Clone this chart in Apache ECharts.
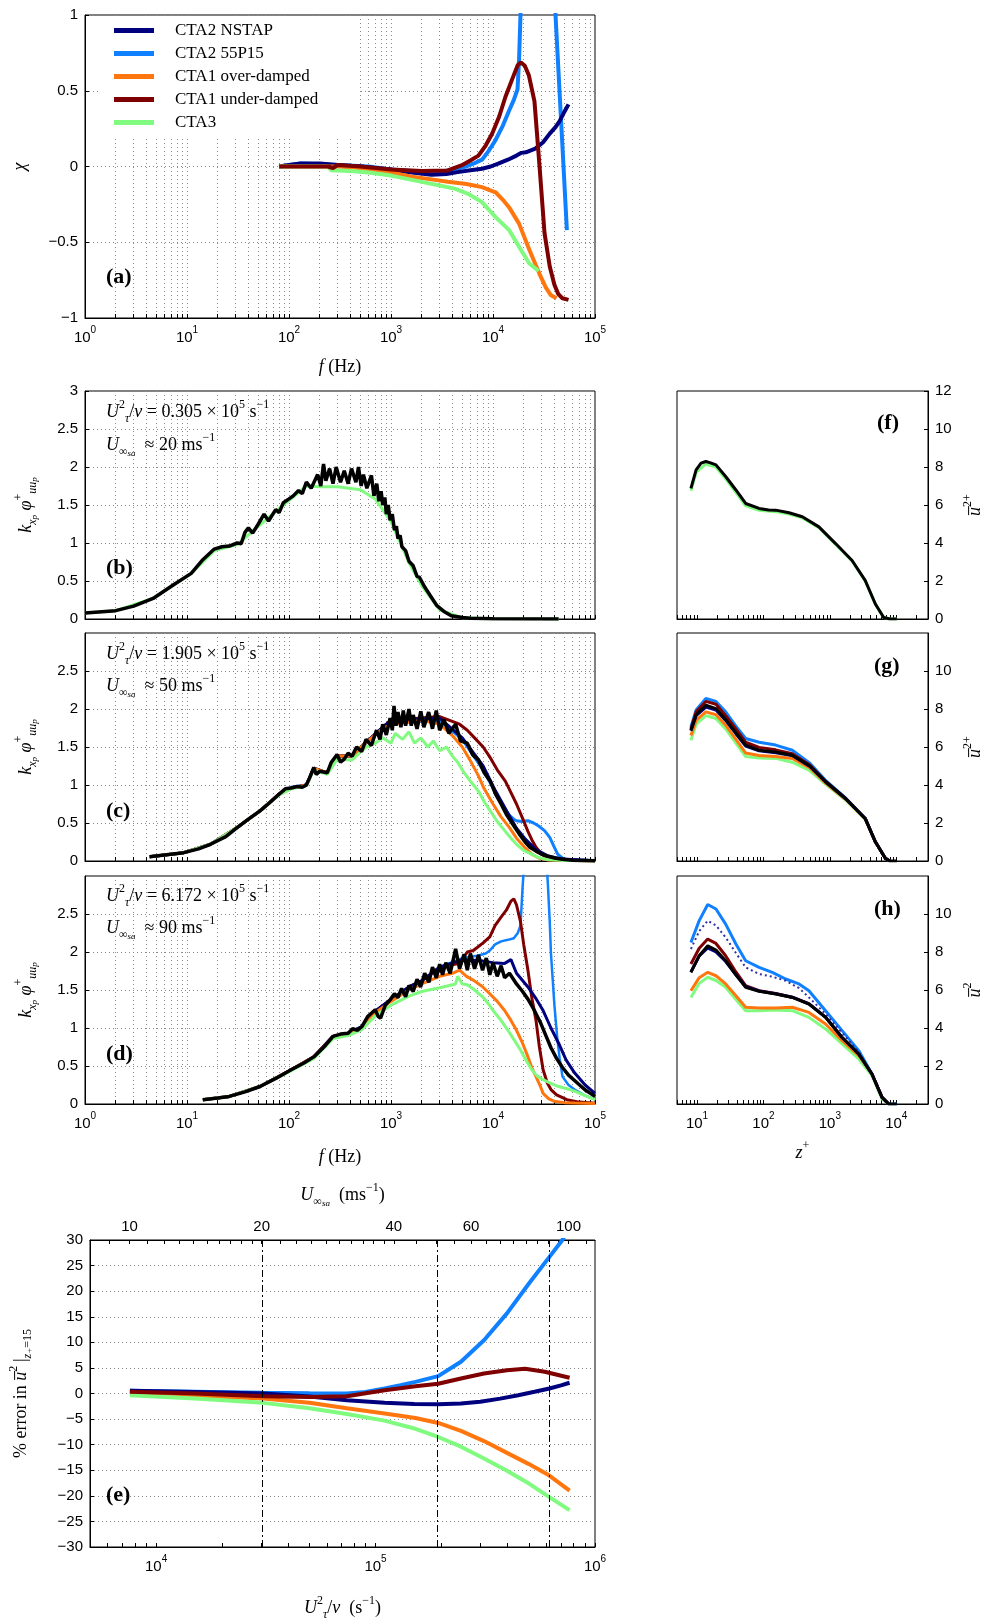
<!DOCTYPE html>
<html><head><meta charset="utf-8">
<script src="https://cdn.jsdelivr.net/npm/echarts@6/dist/echarts.min.js"></script>
<style>html,body{margin:0;padding:0;background:#fff}#c{width:985px;height:1623px}</style>
</head><body><div id="c"></div>
<script>
// ---------------- DATA ----------------
const seriesNames = ['CTA2 NSTAP','CTA2 55P15','CTA1 over-damped','CTA1 under-damped','CTA3'];
const annotFlow = ['0.305','1.905','6.172'];
const annotSpeed = ['20','50','90'];
const refFlow = [30500, 190500, 617200];
const topSpeedLabels = [10,20,40,60,100];

// (a) chi vs f
const chiNSTAP = [[80,0],[100,0.01],[130,0.02],[200,0.02],[300,0.01],[500,0],[1000,-0.02],[1600,-0.04],[2500,-0.055],[3500,-0.05],[4500,-0.037],[6000,-0.025],[7800,-0.015],[9500,0.0],[11400,0.02],[14000,0.045],[17000,0.072],[19000,0.09],[21000,0.094],[26000,0.118],[31000,0.16],[36000,0.217],[41000,0.26],[45000,0.30],[50000,0.36],[55000,0.41]];
const chi55P15 = [[80,0],[130,0.02],[300,0.01],[600,0],[1000,-0.02],[2000,-0.035],[3000,-0.035],[4200,-0.02],[5400,0.0],[6500,0.02],[7800,0.045],[9000,0.1],[10500,0.17],[12500,0.27],[14400,0.37],[16000,0.44],[17400,0.51],[18000,0.7],[18600,1.0],[19500,1.6],[39000,1.6],[41000,1.0],[53000,-0.42]];
const chiOver = [[80,0],[240,0],[300,0.0],[500,-0.01],[1000,-0.04],[1680,-0.07],[2500,-0.085],[3600,-0.10],[5500,-0.115],[7800,-0.136],[10600,-0.17],[12500,-0.22],[14400,-0.27],[18000,-0.377],[22700,-0.55],[28600,-0.71],[33000,-0.8],[37000,-0.85],[42000,-0.87]];
const chiUnder = [[80,0],[240,0],[270,-0.01],[300,0.01],[500,0],[1000,-0.02],[2000,-0.03],[3600,-0.026],[4900,0.007],[6000,0.04],[7200,0.072],[8500,0.14],[9800,0.216],[11500,0.33],[13200,0.457],[15500,0.58],[17500,0.67],[18800,0.687],[20500,0.665],[22500,0.6],[25500,0.43],[28600,0.0],[32000,-0.44],[36000,-0.66],[40000,-0.78],[43500,-0.84],[48000,-0.87],[55000,-0.88]];
const chiCTA3 = [[80,0],[240,0],[260,-0.025],[400,-0.03],[600,-0.04],[1000,-0.06],[1950,-0.10],[3000,-0.125],[4200,-0.146],[5700,-0.18],[7800,-0.235],[10600,-0.334],[14400,-0.42],[18000,-0.53],[22700,-0.64],[28000,-0.69]];

// (b) premultiplied spectra, 20 m/s
const specB_black = [[1,0.08],[2,0.11],[3,0.17],[4.65,0.27],[7.2,0.44],[11,0.6],[14.3,0.78],[18.5,0.92],[22,0.95],[26,0.96],[31,1.0],[34,0.99],[37,1.14],[40,1.2],[44,1.13],[50,1.25],[57,1.38],[63,1.29],[74,1.44],[80,1.4],[88,1.53],[100,1.58],[110,1.62],[124,1.69],[135,1.65],[148,1.8],[165,1.72],[191,1.9],[205,1.75],[218,2.04],[230,1.82],[250,1.98],[270,1.78],[290,2.0],[320,1.8],[348,1.95],[380,1.78],[410,1.98],[453,1.8],[480,2.0],[510,1.75],[537,1.9],[580,1.72],[643,1.89],[680,1.62],[725,1.78],[760,1.55],[800,1.68],[830,1.5],[870,1.6],[900,1.38],[940,1.5],[980,1.3],[1030,1.38],[1080,1.17],[1130,1.22],[1170,1.06],[1230,1.1],[1280,0.95],[1390,0.9],[1500,0.76],[1650,0.7],[1800,0.56],[1900,0.55],[2140,0.42],[2450,0.3],[2800,0.18],[3300,0.1],[3900,0.044],[5000,0.02],[6000,0.01],[10000,0.003],[44000,0]];
const specB_green = [[1,0.08],[2,0.11],[4.65,0.27],[11,0.6],[18.5,0.9],[31,0.98],[50,1.22],[88,1.5],[148,1.75],[200,1.74],[300,1.74],[500,1.7],[700,1.58],[1000,1.28],[1500,0.74],[2000,0.44],[3000,0.12],[5000,0.015],[10000,0.002],[44000,0]];

// (c) 50 m/s
const specC_black = [[4.3,0.057],[6,0.08],[9.3,0.11],[13,0.16],[17,0.22],[24,0.32],[31,0.44],[40,0.55],[52,0.66],[65,0.77],[80,0.88],[92,0.95],[105,0.96],[120,0.98],[135,0.97],[148,1.0],[160,1.1],[175,1.23],[185,1.14],[200,1.18],[237,1.16],[260,1.3],[296,1.4],[320,1.3],[348,1.34],[380,1.42],[415,1.38],[460,1.5],[515,1.44],[570,1.6],[642,1.52],[720,1.72],[780,1.6],[830,1.8],[900,1.66],[980,1.88],[1030,1.72],[1070,2.04],[1120,1.78],[1170,1.96],[1250,1.76],[1320,1.98],[1390,1.78],[1500,2.0],[1580,1.78],[1650,1.92],[1800,1.74],[1960,1.97],[2100,1.76],[2340,1.96],[2550,1.74],[2780,1.98],[3000,1.72],[3300,1.86],[3700,1.68],[4300,1.8],[4800,1.58],[5600,1.55],[6300,1.4],[7200,1.33],[8200,1.16],[9400,1.05],[10600,0.88],[12000,0.75],[13700,0.6],[15700,0.48],[18000,0.36],[20400,0.26],[23000,0.18],[26400,0.13],[30000,0.09],[34000,0.066],[40000,0.04],[48000,0.022],[60000,0.01],[100000,0.003]];
const specC_green = [[4.3,0.057],[9.3,0.11],[17,0.22],[31,0.44],[52,0.66],[80,0.87],[105,0.95],[148,0.99],[175,1.2],[237,1.14],[296,1.34],[415,1.33],[570,1.5],[700,1.55],[830,1.62],[1000,1.55],[1100,1.68],[1300,1.6],[1500,1.7],[1700,1.55],[1960,1.62],[2300,1.5],[2600,1.58],[3000,1.45],[3500,1.5],[4000,1.38],[4500,1.3],[5100,1.18],[6000,1.05],[7200,0.92],[8200,0.78],[9400,0.66],[11000,0.52],[13200,0.39],[15000,0.3],[17000,0.22],[20000,0.14],[24000,0.088],[28000,0.045],[34000,0.02],[50000,0.005],[100000,0.001]];
const specC_orange = [[4.3,0.057],[9.3,0.11],[17,0.22],[31,0.44],[52,0.66],[80,0.88],[105,0.96],[148,1.0],[175,1.22],[237,1.16],[296,1.38],[415,1.38],[570,1.56],[830,1.74],[1000,1.8],[2000,1.85],[3000,1.8],[4000,1.65],[5000,1.5],[6000,1.32],[7200,1.12],[8200,0.95],[10000,0.75],[12000,0.58],[14500,0.44],[17000,0.3],[20400,0.18],[24000,0.09],[28000,0.04],[35000,0.012],[100000,0.001]];
const specC_red = [[4.3,0.057],[9.3,0.11],[17,0.22],[31,0.44],[52,0.66],[80,0.88],[105,0.96],[148,1.0],[175,1.22],[237,1.16],[296,1.38],[415,1.38],[570,1.56],[830,1.76],[1000,1.85],[3000,1.9],[4700,1.8],[5600,1.72],[6600,1.62],[8000,1.5],[9400,1.36],[11000,1.2],[13200,1.05],[15000,0.9],[17000,0.75],[19500,0.56],[22000,0.39],[24000,0.28],[26400,0.18],[30000,0.09],[34000,0.04],[40000,0.015],[100000,0.001]];
const specC_blue = [[4.3,0.057],[9.3,0.11],[17,0.22],[31,0.44],[52,0.66],[80,0.88],[105,0.97],[148,1.0],[175,1.22],[237,1.16],[296,1.38],[415,1.38],[570,1.56],[830,1.76],[1000,1.82],[3000,1.85],[5000,1.6],[8000,1.2],[10600,0.9],[12500,0.72],[14500,0.6],[16000,0.55],[17000,0.53],[19000,0.52],[22000,0.53],[25000,0.5],[28000,0.46],[32000,0.4],[36000,0.31],[40000,0.18],[43000,0.09],[50000,0.02],[100000,0.002]];
const specC_navy = [[4.3,0.057],[9.3,0.11],[17,0.22],[31,0.44],[52,0.66],[80,0.88],[105,0.96],[148,1.0],[175,1.22],[237,1.16],[296,1.38],[415,1.38],[570,1.56],[830,1.76],[1000,1.85],[3000,1.88],[5000,1.62],[8000,1.25],[10600,0.92],[13700,0.65],[17000,0.43],[20400,0.3],[26400,0.15],[34000,0.07],[48000,0.025],[100000,0.003]];

// (d) 90 m/s
const specD_black = [[14.3,0.057],[20,0.08],[26,0.1],[37,0.16],[52,0.23],[75,0.34],[105,0.45],[140,0.54],[175,0.62],[220,0.75],[270,0.89],[320,0.92],[380,0.93],[420,0.99],[470,0.97],[520,1.02],[590,1.15],[650,1.2],[700,1.24],[750,1.15],[790,1.13],[880,1.3],[980,1.37],[1080,1.45],[1170,1.4],[1270,1.52],[1390,1.41],[1500,1.56],[1650,1.48],[1800,1.64],[1950,1.54],[2140,1.72],[2350,1.6],[2550,1.8],[2780,1.66],[3000,1.84],[3200,1.7],[3450,1.86],[3800,1.72],[4300,2.04],[4700,1.78],[5200,1.97],[5600,1.76],[6000,1.98],[6600,1.78],[7200,1.96],[7900,1.76],[8600,1.92],[9300,1.7],[10000,1.86],[11000,1.68],[12000,1.82],[13000,1.66],[14500,1.72],[17000,1.58],[19500,1.48],[22000,1.38],[25000,1.25],[29000,1.08],[33000,0.9],[37000,0.74],[42000,0.6],[48000,0.48],[55000,0.38],[63000,0.31],[72000,0.24],[81000,0.18],[90000,0.14],[100000,0.1]];
const specD_navy = [[14.3,0.057],[26,0.1],[52,0.23],[105,0.45],[175,0.62],[270,0.89],[380,0.93],[520,1.02],[700,1.22],[1000,1.38],[1500,1.54],[2000,1.62],[3000,1.8],[5000,1.9],[8000,1.88],[10000,1.86],[13000,1.85],[15000,1.9],[17000,1.72],[22000,1.54],[26000,1.4],[31000,1.23],[37000,1.0],[44000,0.8],[52000,0.58],[63000,0.41],[80000,0.25],[100000,0.14]];
const specD_red = [[14.3,0.057],[26,0.1],[52,0.23],[105,0.45],[175,0.62],[270,0.89],[380,0.93],[520,1.02],[700,1.22],[1000,1.37],[1500,1.54],[2000,1.62],[3000,1.8],[4700,1.85],[5600,2.0],[6400,2.02],[7000,2.06],[8000,2.12],[9300,2.2],[10500,2.35],[12000,2.46],[13500,2.55],[15000,2.67],[16000,2.7],[17000,2.62],[18600,2.4],[20000,2.1],[22000,1.76],[24000,1.4],[26400,1.1],[28500,0.75],[31000,0.45],[34000,0.28],[37000,0.19],[42000,0.12],[53000,0.057],[70000,0.025],[100000,0.01]];
const specD_blue = [[14.3,0.057],[26,0.1],[52,0.23],[105,0.45],[175,0.62],[270,0.89],[380,0.93],[520,1.02],[700,1.22],[1000,1.37],[1500,1.54],[2000,1.62],[3000,1.8],[5000,1.92],[7000,1.95],[8500,1.98],[9300,2.02],[10500,2.1],[12000,2.14],[14000,2.16],[16000,2.18],[17500,2.25],[18600,2.35],[19500,2.85],[20500,3.3],[33000,3.3],[34500,2.9],[36000,2.4],[37000,1.98],[40000,1.3],[42500,0.89],[45000,0.6],[48000,0.36],[55000,0.25],[63000,0.19],[80000,0.11],[100000,0.06]];
const specD_orange = [[14.3,0.057],[26,0.1],[52,0.23],[105,0.45],[175,0.62],[270,0.88],[380,0.92],[520,1.0],[700,1.2],[1000,1.35],[1500,1.5],[2000,1.58],[3000,1.68],[4000,1.72],[4700,1.76],[5500,1.68],[6400,1.63],[7800,1.55],[9300,1.45],[11000,1.35],[13000,1.23],[15000,1.1],[17000,0.97],[19500,0.8],[22000,0.62],[24000,0.48],[26400,0.36],[29000,0.24],[31000,0.14],[35000,0.07],[40000,0.035],[50000,0.018],[63000,0.013],[100000,0.008]];
const specD_green = [[14.3,0.057],[26,0.1],[52,0.23],[105,0.44],[175,0.6],[270,0.86],[380,0.9],[520,0.98],[700,1.16],[1000,1.3],[1500,1.42],[2000,1.48],[3000,1.53],[4300,1.58],[4500,1.68],[5000,1.58],[5600,1.57],[6600,1.5],[7900,1.41],[9000,1.32],[10000,1.23],[12000,1.1],[14000,0.97],[16000,0.85],[18600,0.71],[21000,0.58],[24000,0.45],[27000,0.37],[31000,0.32],[37000,0.27],[44000,0.23],[53000,0.2],[63000,0.17],[80000,0.11],[100000,0.057]];

// (e) % error at z+=15
const errNSTAP = [[7600,0.52],[15000,0.3],[30800,0.0],[50000,-0.6],[74000,-1.3],[110000,-1.83],[150000,-2.05],[193000,-2.1],[245000,-1.95],[300000,-1.63],[370000,-1.0],[447000,-0.33],[530000,0.35],[620000,0.98],[700000,1.6],[766000,2.1]];
const err55P15 = [[7600,0.55],[15000,0.35],[30800,0.13],[50000,0.05],[74000,0.0],[90000,0.3],[110000,0.98],[130000,1.6],[152000,2.28],[193000,3.4],[245000,6.2],[312000,10.4],[397000,15.65],[500000,21.5],[620000,26.7],[710000,30],[766000,32.5]];
const errOver = [[7600,0.0],[15000,-0.45],[30800,-1.0],[50000,-1.8],[74000,-2.9],[110000,-3.9],[152000,-4.8],[193000,-5.75],[245000,-7.3],[312000,-9.3],[397000,-11.6],[500000,-13.8],[617000,-16.0],[766000,-19.0]];
const errUnder = [[7600,0.33],[15000,0.0],[30800,-0.52],[50000,-0.7],[74000,-0.52],[110000,0.65],[152000,1.4],[193000,1.9],[245000,2.93],[312000,3.9],[397000,4.56],[480000,4.82],[590000,4.24],[766000,3.07]];
const errCTA3 = [[7600,-0.33],[15000,-1.0],[30800,-1.83],[50000,-2.9],[74000,-4.0],[110000,-5.3],[152000,-6.9],[193000,-8.5],[245000,-10.4],[312000,-12.7],[397000,-15.1],[500000,-17.6],[617000,-20.2],[766000,-22.8]];

// (f) variance profile, 20 m/s
const varF_black = [[8.1,6.87],[9.7,7.85],[11.5,8.2],[13.6,8.29],[16,8.22],[19.3,8.11],[27,7.5],[38.5,6.79],[54,6.08],[86,5.82],[120,5.74],[153,5.73],[243,5.59],[385,5.38],[684,4.85],[1220,3.97],[2160,3.08],[3400,2.03],[4840,0.79],[6460,0.08],[8000,0.0],[10200,0]];
const varF_green = [[8.1,6.75],[9.7,7.72],[13.6,8.16],[19.3,7.99],[27,7.38],[38.5,6.67],[54,5.96],[86,5.72],[153,5.65],[243,5.52],[385,5.32],[684,4.8],[1220,3.93],[2160,3.05],[3400,2.0],[4840,0.78],[6460,0.08],[8000,0.0],[10200,0]];
// (g) 50 m/s
const varG_black = [[8.1,6.88],[9.7,7.7],[13.6,8.2],[19.3,8.02],[27,7.45],[38.5,6.75],[54,6.1],[86,5.83],[153,5.74],[272,5.57],[500,5.0],[861,4.17],[1720,3.29],[3400,2.24],[4840,1.01],[6840,0.14],[8000,0.0],[10200,0]];
const varG_blue = [[8.1,7.05],[9.7,7.95],[13.6,8.55],[19.3,8.4],[27,7.85],[38.5,7.1],[54,6.45],[86,6.25],[153,6.1],[272,5.83],[500,5.15],[861,4.25],[1720,3.32],[3400,2.25],[4840,1.01],[6840,0.14],[8000,0.0]];
const varG_red = [[8.1,6.95],[9.7,7.85],[13.6,8.4],[19.3,8.25],[27,7.65],[38.5,6.95],[54,6.25],[86,5.98],[153,5.85],[272,5.65],[500,5.05],[861,4.2],[1720,3.3],[3400,2.24],[4840,1.01],[6840,0.14],[8000,0.0]];
const varG_navy = [[8.1,6.85],[9.7,7.65],[13.6,8.1],[19.3,7.95],[27,7.4],[38.5,6.7],[54,6.05],[86,5.8],[153,5.7],[272,5.55],[500,4.98],[861,4.17],[1720,3.29],[3400,2.24],[4840,1.01],[6840,0.14],[8000,0.0]];
const varG_orange = [[8.1,6.6],[9.7,7.4],[13.6,7.85],[19.3,7.7],[27,7.15],[38.5,6.4],[54,5.68],[86,5.55],[153,5.5],[272,5.4],[500,4.9],[861,4.1],[1720,3.25],[3400,2.22],[4840,1.0],[6840,0.14],[8000,0.0]];
const varG_green = [[8.1,6.35],[9.7,7.2],[13.6,7.65],[19.3,7.5],[27,6.95],[38.5,6.2],[54,5.5],[86,5.42],[153,5.4],[272,5.2],[500,4.75],[861,4.05],[1720,3.2],[3400,2.2],[4840,1.0],[6840,0.14],[8000,0.0]];
// (h) 90 m/s
const varH_blue = [[8.1,8.5],[10.8,9.65],[14.5,10.5],[19.3,10.26],[27,9.47],[38.5,8.42],[54,7.54],[86,7.19],[136,6.93],[216,6.58],[343,6.32],[484,5.96],[861,4.91],[1530,3.86],[2720,2.81],[4300,1.58],[6100,0.35],[7700,0.0],[10200,0]];
const varH_dotted = [[8.1,8.16],[10.8,9.1],[14.5,9.65],[19.3,9.4],[27,8.77],[38.5,7.95],[54,7.19],[86,6.84],[136,6.7],[216,6.49],[343,6.1],[484,5.61],[861,4.74],[1530,3.75],[2720,2.75],[4300,1.58],[6100,0.35],[7700,0.0]];
const varH_red = [[8.1,7.37],[10.8,8.2],[14.5,8.68],[19.3,8.45],[27,7.8],[38.5,6.95],[54,6.23],[86,5.96],[153,5.82],[272,5.62],[484,5.28],[861,4.57],[1530,3.5],[2720,2.63],[4300,1.58],[6100,0.35],[7700,0.0]];
const varH_navy = [[8.1,6.95],[10.8,7.8],[14.5,8.22],[19.3,8.0],[27,7.5],[38.5,6.8],[54,6.18],[86,5.95],[153,5.8],[272,5.62],[484,5.27],[861,4.57],[1530,3.5],[2720,2.63],[4300,1.58],[6100,0.35],[7700,0.0]];
const varH_black = [[8.1,6.93],[10.8,7.8],[14.5,8.33],[19.3,8.1],[27,7.54],[38.5,6.8],[54,6.14],[86,5.93],[153,5.79],[272,5.61],[484,5.26],[861,4.56],[1530,3.5],[2720,2.63],[4300,1.58],[6100,0.35],[7700,0.0],[10200,0]];
const varH_orange = [[8.1,5.96],[10.8,6.65],[14.5,6.93],[19.3,6.75],[27,6.32],[38.5,5.7],[54,5.09],[86,5.05],[153,5.05],[272,5.09],[484,4.82],[861,4.21],[1530,3.33],[2720,2.54],[4300,1.58],[6100,0.35],[7700,0.0]];
const varH_green = [[8.1,5.61],[10.8,6.35],[14.5,6.67],[19.3,6.5],[27,6.14],[38.5,5.5],[54,4.91],[86,4.91],[153,4.95],[272,4.91],[484,4.56],[861,3.95],[1530,3.16],[2720,2.37],[4300,1.49],[6100,0.26],[7700,0.0]];

// ---------------- STYLE ----------------
const FS = 'Liberation Sans, Arial, sans-serif';
const FR = 'Liberation Serif, Times New Roman, serif';
const C = {navy:'#00007f', blue:'#0f80ff', orange:'#ff760f', red:'#7f0000', green:'#80fb80', black:'#000000'};

const richTick = {
  b:{fontFamily:FS,fontSize:15,color:'#000',lineHeight:20,verticalAlign:'bottom'},
  e:{fontFamily:FS,fontSize:10,color:'#000',lineHeight:11,verticalAlign:'top'}
};
const richTxt = {
  n:{fontFamily:FR,fontSize:18,color:'#000',lineHeight:26,verticalAlign:'middle'},
  i:{fontFamily:FR,fontSize:18,color:'#000',lineHeight:26,verticalAlign:'middle',fontStyle:'italic'},
  sup:{fontFamily:FR,fontSize:12,color:'#000',lineHeight:14,verticalAlign:'top'},
  sub:{fontFamily:FR,fontSize:12,color:'#000',lineHeight:12,verticalAlign:'bottom',fontStyle:'italic'},
  subn:{fontFamily:FR,fontSize:12,color:'#000',lineHeight:12,verticalAlign:'bottom'},
  ss:{fontFamily:FR,fontSize:9,color:'#000',lineHeight:6,verticalAlign:'bottom',fontStyle:'italic'}
};

function logTicks(min,max){
  const out=[];
  for(let k=Math.floor(Math.log10(min));k<=Math.ceil(Math.log10(max));k++){
    for(let m=1;m<=9;m++){const v=m*Math.pow(10,k); if(v>=min*0.999&&v<=max*1.001) out.push(v);}
  }
  return out;
}
function decades(min,max){
  const out=[];
  for(let k=Math.ceil(Math.log10(min)-1e-9);k<=Math.floor(Math.log10(max)+1e-9);k++) out.push(Math.pow(10,k));
  return out;
}
const expFmt = v => '{b|10}{e|'+Math.round(Math.log10(v))+'}';
const numFmt = v => v<0 ? '\u2212'+Math.abs(v) : String(v);

function xLog(gi,min,max,showLabels,split,name,nameGap){
  return {type:'log',logBase:10,gridIndex:gi,min:min,max:max,
    axisLine:{show:true,onZero:false,lineStyle:{color:'#000',width:1}},
    axisTick:{show:true,inside:true,length:4,customValues:logTicks(min,max),lineStyle:{color:'#000'}},
    axisLabel:{show:showLabels,customValues:decades(min,max),formatter:expFmt,rich:richTick,margin:7},
    splitLine:{show:split,lineStyle:{color:'#8a8a8a',type:[1,3],width:1}},
    name:name||'',nameLocation:'middle',nameGap:nameGap||30,
    nameTextStyle:{rich:richTxt}};
}
function yVal(gi,min,max,interval,opts){
  const o = Object.assign({split:true,right:false,hideMax:false,name:'',nameGap:50},opts||{});
  return {type:'value',gridIndex:gi,min:min,max:max,interval:interval,position:o.right?'right':'left',
    axisLine:{show:true,onZero:false,lineStyle:{color:'#000',width:1}},
    axisTick:{show:true,inside:true,length:4,lineStyle:{color:'#000'}},
    axisLabel:{color:'#000',fontFamily:FS,fontSize:15,formatter:numFmt,showMaxLabel:!o.hideMax,margin:7},
    splitLine:{show:o.split,lineStyle:{color:'#8a8a8a',type:[1,3],width:1}},
    name:o.name,nameLocation:'middle',nameGap:o.nameGap,nameRotate:90,
    nameTextStyle:{rich:richTxt}};
}
let zc=1;
function ln(name,data,color,width,ai,extra){
  return Object.assign({type:'line',name:name,data:data,xAxisIndex:ai,yAxisIndex:ai,
    showSymbol:false,symbol:'none',silent:true,animation:false,z:2+(zc++)*0.001,
    lineStyle:{color:color,width:width},itemStyle:{color:color}},extra||{});
}

const grids = [
  {left:85,top:15,width:510,height:303},   // a
  {left:85,top:391,width:510,height:228},  // b
  {left:85,top:633,width:510,height:228},  // c
  {left:85,top:876,width:510,height:228},  // d
  {left:85,top:1240,width:510,height:307}, // e
  {left:677,top:391,width:251,height:228}, // f
  {left:677,top:633,width:251,height:228}, // g
  {left:677,top:876,width:251,height:228}  // h
].map(g=>Object.assign(g,{show:true,borderColor:'#000',borderWidth:1,backgroundColor:'transparent'}));

const specName = '{i|k}{sub|x}{ss|p}{n| }{i|\u03C6}{sup|+}{sub|uu}{ss|p}';
const varName = '{i|u\u0305}{sup|2}{sup|+}';

const xAxes = [
  xLog(0,1,1e5,true,true,'{i|f}{n| (Hz)}',36),
  xLog(1,1,1e5,false,true),
  xLog(2,1,1e5,false,true),
  xLog(3,1,1e5,true,true,'{i|f}{n| (Hz)}',40),
  xLog(4,5000,1e6,true,false,'{i|U}{sup|2}{sub|\u03C4}{n|/}{i|\u03BD}{n|  (s}{sup|\u22121}{n|)}',48),
  xLog(5,5,3e4,false,false),
  xLog(6,5,3e4,false,false),
  xLog(7,5,3e4,true,false,'{i|z}{sup|+}',36),
  {type:'log',logBase:10,gridIndex:4,position:'top',min:8.13,max:114.9,
   axisLine:{show:true,onZero:false,lineStyle:{color:'#000'}},
   axisTick:{show:true,inside:true,length:4,customValues:[9,10,11,12,13,14,15,16,17,18,19,20,22,24,26,28,30,32,34,36,38,40,45,50,55,60,65,70,75,80,85,90,95,100,110],lineStyle:{color:'#000'}},
   axisLabel:{customValues:topSpeedLabels,color:'#000',fontFamily:FS,fontSize:15,margin:6},
   splitLine:{show:false},
   name:'{i|U}{subn|\u221E}{ss|sa}{n|  (ms}{sup|\u22121}{n|)}',nameLocation:'middle',nameGap:32,
   nameTextStyle:{rich:richTxt}}
];
const yAxes = [
  yVal(0,-1,1,0.5,{name:'{i|\u03C7}',nameGap:52}),
  yVal(1,0,3,0.5,{name:specName,nameGap:46}),
  yVal(2,0,3,0.5,{name:specName,nameGap:46,hideMax:true}),
  yVal(3,0,3,0.5,{name:specName,nameGap:46,hideMax:true}),
  yVal(4,-30,30,5,{name:'{n|% error in }{i|u\u0305}{sup|2}{n|\u2009|}{sub|z}{ss|+}{subn|=15}',nameGap:56}),
  yVal(5,0,12,2,{split:false,right:true,name:varName,nameGap:34}),
  yVal(6,0,12,2,{split:false,right:true,hideMax:true,name:varName,nameGap:34}),
  yVal(7,0,12,2,{split:false,right:true,hideMax:true,name:'{i|u\u0305}{sup|2}',nameGap:34})
];

const N=seriesNames;
const series = [
  // (a)
  ln(N[1],chi55P15,C.blue,4,0), ln(N[0],chiNSTAP,C.navy,4,0), ln(N[2],chiOver,C.orange,4,0),
  ln(N[4],chiCTA3,C.green,4,0), ln(N[3],chiUnder,C.red,4,0),
  // (b)
  ln(N[4],specB_green,C.green,3,1), ln('ref',specB_black,C.black,3.5,1),
  // (c)
  ln(N[1],specC_blue,C.blue,3,2), ln(N[3],specC_red,C.red,3,2), ln(N[0],specC_navy,C.navy,3,2),
  ln(N[2],specC_orange,C.orange,3,2), ln(N[4],specC_green,C.green,3,2), ln('ref',specC_black,C.black,3.5,2),
  // (d)
  ln(N[1],specD_blue,C.blue,2.5,3), ln(N[3],specD_red,C.red,3,3), ln(N[0],specD_navy,C.navy,3,3),
  ln(N[2],specD_orange,C.orange,3,3), ln(N[4],specD_green,C.green,3,3), ln('ref',specD_black,C.black,3.5,3),
  // (e)
  ln(N[1],err55P15,C.blue,4,4,{markLine:{silent:true,symbol:'none',animation:false,label:{show:false},
     lineStyle:{color:'#000',width:1,type:[7,3,2,3]},data:refFlow.map(v=>({xAxis:v}))}}),
  ln(N[0],errNSTAP,C.navy,4,4), ln(N[2],errOver,C.orange,4,4), ln(N[4],errCTA3,C.green,4,4), ln(N[3],errUnder,C.red,4,4),
  // (f)
  ln(N[4],varF_green,C.green,3,5), ln('ref',varF_black,C.black,3,5),
  // (g)
  ln(N[1],varG_blue,C.blue,3,6), ln(N[4],varG_green,C.green,3,6), ln(N[2],varG_orange,C.orange,3,6),
  ln(N[3],varG_red,C.red,3,6), ln(N[0],varG_navy,C.navy,3,6), ln('ref',varG_black,C.black,3,6),
  // (h)
  ln(N[1],varH_blue,C.blue,3,7), ln('dotted',varH_dotted,'#3030a8',2,7,{lineStyle:{color:'#3030a8',width:2,type:[2,3]}}),
  ln(N[4],varH_green,C.green,3,7), ln(N[2],varH_orange,C.orange,3,7), ln(N[3],varH_red,C.red,3,7),
  ln(N[0],varH_navy,C.navy,3,7), ln('ref',varH_black,C.black,3,7)
];

function panelLabel(t,x,y){
  return {type:'text',left:x,top:y,z:100,style:{text:t,fontFamily:FR,fontSize:22,fontWeight:'bold',fill:'#000'}};
}
function annot(i,y1,y2){
  return [
    {type:'text',left:106,top:y1-13,z:100,style:{rich:richTxt,
      text:'{i|U}{sup|2}{sub|\u03C4}{n|/}{i|\u03BD}{n| = '+annotFlow[i]+' \u00D7 10}{sup|5}{n| s}{sup|\u22121}'}},
    {type:'text',left:106,top:y2-13,z:100,style:{rich:richTxt,
      text:'{i|U}{subn|\u221E}{ss|sa}{n|  \u2248 '+annotSpeed[i]+' ms}{sup|\u22121}'}}
  ];
}

const option = {
  backgroundColor:'#fff',
  animation:false,
  grid:grids, xAxis:xAxes, yAxis:yAxes, series:series,
  legend:{data:seriesNames,orient:'vertical',left:100,top:16,icon:'rect',itemWidth:40,itemHeight:5,itemGap:6,
    backgroundColor:'#fff',padding:[6,40,8,14],z:10,selectedMode:false,
    textStyle:{fontFamily:FR,fontSize:17,color:'#000',padding:[0,0,0,16],lineHeight:17}},
  graphic:[
    panelLabel('(a)',106,266), panelLabel('(b)',106,557), panelLabel('(c)',106,800),
    panelLabel('(d)',106,1043), panelLabel('(e)',106,1484),
    panelLabel('(f)',877,412), panelLabel('(g)',874,655), panelLabel('(h)',874,898),
    ...annot(0,412,445), ...annot(1,654,686), ...annot(2,896,928)
  ]
};
const chart = echarts.init(document.getElementById('c'),null,{renderer:'canvas'});
chart.setOption(option);
</script></body></html>
